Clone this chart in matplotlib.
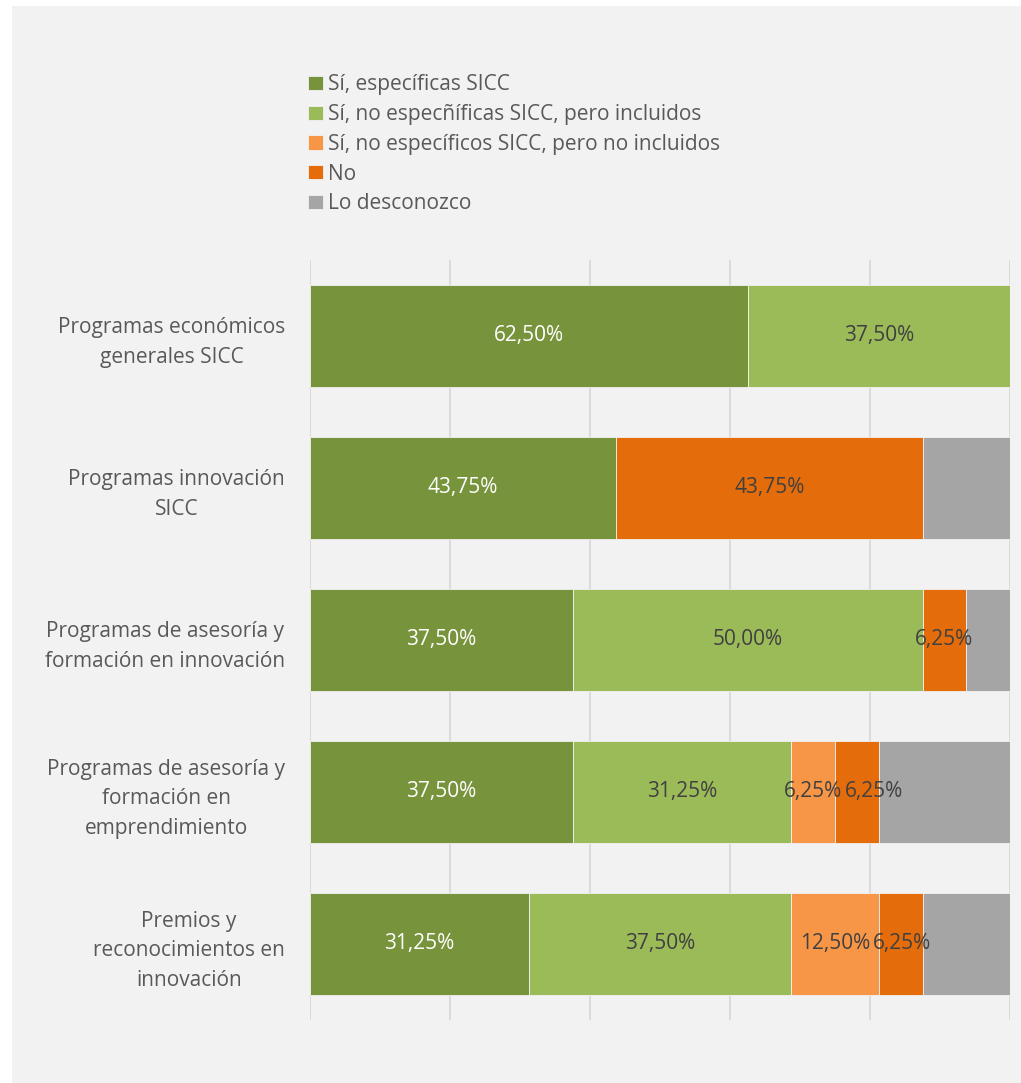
import numpy as np
import matplotlib.pyplot as plt
from matplotlib.patches import Rectangle

plt.rcParams['font.family'] = ['Open Sans', 'DejaVu Sans']

categorias = [
    "Programas económicos\ngenerales SICC",
    "Programas innovación\nSICC",
    "Programas de asesoría y\nformación en innovación",
    "Programas de asesoría y\nformación en\nemprendimiento",
    "Premios y\nreconocimientos en\ninnovación",
]
series = [
    "Sí, específicas SICC",
    "Sí, no especñíficas SICC, pero incluidos",
    "Sí, no específicos SICC, pero no incluidos",
    "No",
    "Lo desconozco",
]
si_especificas = [62.50, 43.75, 37.50, 37.50, 31.25]
si_incluidos = [37.50, 0.00, 50.00, 31.25, 37.50]
si_no_incluidos = [0.00, 0.00, 0.00, 6.25, 12.50]
no = [0.00, 43.75, 6.25, 6.25, 6.25]
desconozco = [0.00, 12.50, 6.25, 18.75, 12.50]

colores = ["#77933c", "#9bbb59", "#f79646", "#e46c0a", "#a5a5a5"]
color_etiqueta = ["white", "#404040", "#404040", "#404040", None]  # sin etiqueta en gris
texto = "#595959"
fs = 15

fig = plt.figure(figsize=(10.21, 10.83), dpi=100)
fig.patch.set_facecolor("white")
fig.patches.append(Rectangle((12 / 1021, -0.1), 1.2, 1.1 - 6 / 1083, linewidth=0,
                             transform=fig.transFigure, color="#f2f2f2", zorder=-10))

ax = fig.add_axes([310 / 1021, 63 / 1083, 700 / 1021, 760 / 1083])
ax.set_facecolor("none")

y = np.arange(len(categorias))
izq = np.zeros(len(categorias))
datos = [si_especificas, si_incluidos, si_no_incluidos, no, desconozco]
etiquetas = {i: [] for i in y}
for nombre, vals, col, col_txt in zip(series, datos, colores, color_etiqueta):
    vals = np.array(vals)
    ax.barh(y, vals, left=izq, height=0.667, color=col, edgecolor="#f2f2f2",
            linewidth=0.6, label=nombre, zorder=3)
    if col_txt is not None:
        for yi, l, v in zip(y, izq, vals):
            if v > 0:
                t = ax.text(l + v / 2, yi, f"{v:.2f}%".replace(".", ","), ha="center",
                            va="center", fontsize=fs, color=col_txt, zorder=4)
                etiquetas[yi].append(t)
    izq += vals

ax.set_xlim(0, 100)
ax.set_ylim(4.5, -0.5)
ax.set_xticks(np.arange(0, 101, 20))
ax.tick_params(axis="x", length=0, labelbottom=False)
ax.grid(axis="x", color="#d9d9d9", linewidth=1.3, zorder=0)
ax.set_yticks(y)
ax.set_yticklabels(categorias, fontsize=fs, color=texto, multialignment="center",
                   linespacing=1.55)
ax.tick_params(axis="y", length=0, pad=18)
for s in ax.spines.values():
    s.set_visible(False)

# empuja a la derecha las etiquetas que se pisan
r = fig.canvas.get_renderer()
for fila in etiquetas.values():
    borde = None
    for t in fila:
        bb = t.get_window_extent(r)
        if borde is not None and bb.x0 < borde + 3:
            dx = borde + 3 - bb.x0
            x_px, y_px = ax.transData.transform(t.get_position())
            t.set_position(ax.transData.inverted().transform((x_px + dx, y_px)))
            bb = t.get_window_extent(r)
        borde = bb.x1

fig.legend(loc="upper left", bbox_to_anchor=(300 / 1021, 1 - 66 / 1083),
           frameon=False, fontsize=fs, labelcolor=texto, handlelength=0.68,
           handleheight=0.68, handletextpad=0.25, labelspacing=0.42,
           borderaxespad=0)

fig.savefig("out.png", dpi=100, facecolor=fig.get_facecolor())
